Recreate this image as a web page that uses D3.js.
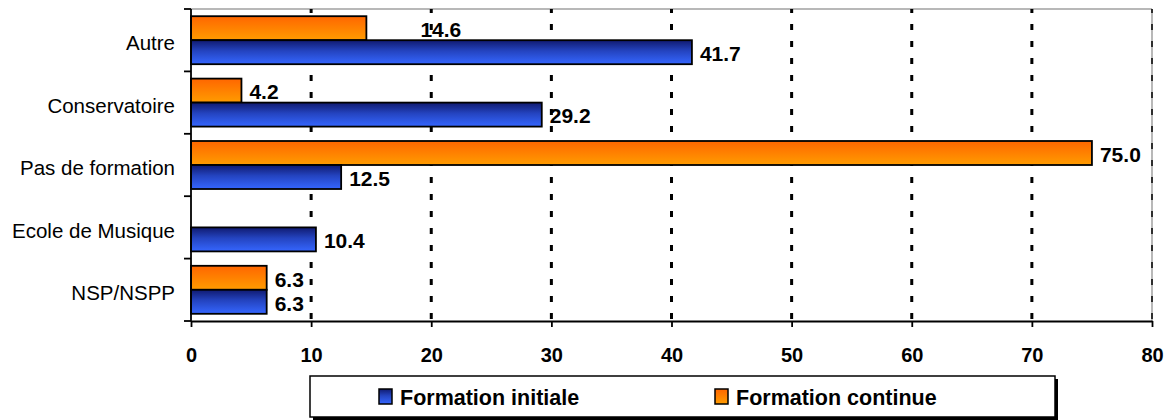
<!DOCTYPE html>
<html>
<head>
<meta charset="utf-8">
<script src="https://cdn.jsdelivr.net/npm/d3@7"></script>
<style>
  body { margin: 0; background: #fff; }
  text { font-family: "Liberation Sans", Arial, sans-serif; }
</style>
</head>
<body>
<svg id="chart" width="1176" height="420"></svg>
<script>
// categories, top to bottom
const categories = ["Autre", "Conservatoire", "Pas de formation", "Ecole de Musique", "NSP/NSPP"];
const seriesNames = ["Formation continue", "Formation initiale"];
const formationContinue = [14.6, 4.2, 75.0, null, 6.3];
const formationInitiale = [41.7, 29.2, 12.5, 10.4, 6.3];
const xTicks = [0, 10, 20, 30, 40, 50, 60, 70, 80];

const svg = d3.select("#chart");
const plotLeft = 191, plotRight = 1152, plotTop = 9, plotBottom = 321;

const x = d3.scaleLinear().domain([0, 80]).range([plotLeft, plotRight]);
const y = d3.scaleBand().domain(categories).range([plotTop, plotBottom]).padding(0);
const ySub = d3.scaleBand().domain(seriesNames).range([0, y.bandwidth()])
  .paddingInner(0).paddingOuter(0.3);

// gradients
const defs = svg.append("defs");
const gradOrange = defs.append("linearGradient").attr("id", "gOrange")
  .attr("x1", 0).attr("y1", 0).attr("x2", 0).attr("y2", 1);
gradOrange.append("stop").attr("offset", "0%").attr("stop-color", "#ff6600");
gradOrange.append("stop").attr("offset", "100%").attr("stop-color", "#ff9c00");
const gradBlue = defs.append("linearGradient").attr("id", "gBlue")
  .attr("x1", 0).attr("y1", 0).attr("x2", 0).attr("y2", 1);
gradBlue.append("stop").attr("offset", "0%").attr("stop-color", "#101a70");
gradBlue.append("stop").attr("offset", "45%").attr("stop-color", "#2444c0");
gradBlue.append("stop").attr("offset", "100%").attr("stop-color", "#3566ff");

const fills = { "Formation continue": "url(#gOrange)", "Formation initiale": "url(#gBlue)" };

// plot border top / right (grey)
svg.append("line").attr("x1", plotLeft).attr("x2", plotRight).attr("y1", plotTop).attr("y2", plotTop)
  .attr("stroke", "#a0a0a0").attr("stroke-width", 1.5);
svg.append("line").attr("x1", plotRight).attr("x2", plotRight).attr("y1", plotTop).attr("y2", plotBottom)
  .attr("stroke", "#a0a0a0").attr("stroke-width", 1.5);

// dashed gridlines
svg.append("g").selectAll("line")
  .data(xTicks.filter(d => d > 0))
  .join("line")
  .attr("x1", d => x(d)).attr("x2", d => x(d))
  .attr("y1", plotTop).attr("y2", plotBottom)
  .attr("stroke", "#000")
  .attr("stroke-width", d => d === 80 ? 1.5 : 3)
  .attr("stroke-dasharray", "6,11")
  .attr("stroke-dashoffset", 2);

// bars
const rows = [];
categories.forEach((c, i) => {
  rows.push({ cat: c, series: "Formation continue", value: formationContinue[i] });
  rows.push({ cat: c, series: "Formation initiale", value: formationInitiale[i] });
});
const barRows = rows.filter(d => d.value != null);

svg.append("g").selectAll("rect")
  .data(barRows)
  .join("rect")
  .attr("x", x(0))
  .attr("y", d => y(d.cat) + ySub(d.series))
  .attr("width", d => x(d.value) - x(0))
  .attr("height", ySub.bandwidth())
  .attr("fill", d => fills[d.series])
  .attr("stroke", "#000")
  .attr("stroke-width", 1.8);

// value labels (Excel pushed "14.6" off its bar)
const labelShift = { "Autre|Formation continue": [46, 0] };
const shiftOf = d => labelShift[d.cat + "|" + d.series] || [0, 0];
svg.append("g").selectAll("text")
  .data(barRows)
  .join("text")
  .attr("x", d => x(d.value) + 8 + shiftOf(d)[0])
  .attr("y", d => y(d.cat) + ySub(d.series) + ySub.bandwidth() / 2 + shiftOf(d)[1])
  .attr("dy", "0.42em")
  .attr("font-size", 21).attr("font-weight", "bold")
  .text(d => d.value.toFixed(1));

// x axis
const xAxis = svg.append("g").attr("transform", `translate(0,${plotBottom})`)
  .call(d3.axisBottom(x).tickValues(xTicks).tickSize(6).tickSizeOuter(0).tickPadding(21));
xAxis.select(".domain").attr("stroke", "#000").attr("stroke-width", 1.8);
xAxis.selectAll(".tick line").attr("stroke-width", 1.8);
xAxis.selectAll("text").attr("font-size", 20).attr("font-weight", "bold")
  .attr("font-family", "Liberation Sans, Arial, sans-serif").attr("fill", "#000");

// y axis: ticks at band boundaries
svg.append("line").attr("x1", plotLeft).attr("x2", plotLeft).attr("y1", plotTop).attr("y2", plotBottom)
  .attr("stroke", "#000").attr("stroke-width", 1.8);
const boundaries = categories.map(c => y(c)).concat([plotBottom]);
svg.append("g").selectAll("line")
  .data(boundaries)
  .join("line")
  .attr("x1", plotLeft - 7).attr("x2", plotLeft)
  .attr("y1", d => d).attr("y2", d => d)
  .attr("stroke", "#000").attr("stroke-width", 1.8);
svg.append("g").selectAll("text")
  .data(categories)
  .join("text")
  .attr("x", 175)
  .attr("y", c => y(c) + y.bandwidth() / 2)
  .attr("dy", "0.5em")
  .attr("text-anchor", "end")
  .attr("font-size", 20.5)
  .text(c => c);

// legend
const lg = svg.append("g");
lg.append("rect").attr("x", 313).attr("y", 379).attr("width", 745).attr("height", 41).attr("fill", "#000");
lg.append("rect").attr("x", 310).attr("y", 376).attr("width", 745).attr("height", 41)
  .attr("fill", "#fff").attr("stroke", "#000").attr("stroke-width", 1.5);
const legendItems = [
  { name: "Formation initiale", fill: "url(#gBlue)", x: 379 },
  { name: "Formation continue", fill: "url(#gOrange)", x: 715 }
];
legendItems.forEach(it => {
  lg.append("rect").attr("x", it.x).attr("y", 389).attr("width", 13).attr("height", 15)
    .attr("fill", it.fill).attr("stroke", "#000").attr("stroke-width", 1.5);
  lg.append("text").attr("x", it.x + 21).attr("y", 405)
    .attr("font-size", 21.5).attr("font-weight", "bold").text(it.name);
});
</script>
</body>
</html>
